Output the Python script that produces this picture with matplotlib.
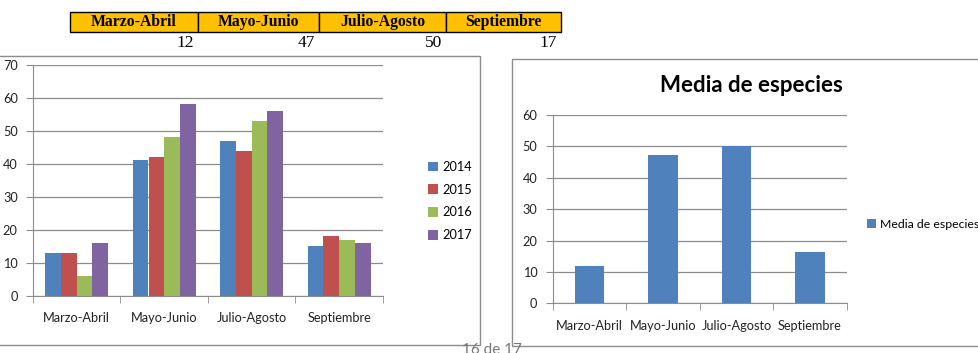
import matplotlib.pyplot as plt
from matplotlib.patches import Rectangle
import numpy as np

periods = ["Marzo-Abril", "Mayo-Junio", "Julio-Agosto", "Septiembre"]
years = ["2014", "2015", "2016", "2017"]
v2014 = [13, 41, 47, 15]
v2015 = [13, 42, 44, 18]
v2016 = [6, 48, 53, 17]
v2017 = [16, 58, 56, 16]
media = [12, 47.25, 50, 16.5]
media_table = [12, 47, 50, 17]

colors = ["#4F81BD", "#C0504D", "#9BBB59", "#8064A2"]
W, H = 979, 353
font = ["Lato", "DejaVu Sans"]


def fx(px):
    return px / W


def fy(py):
    return 1 - py / H


fig = plt.figure(figsize=(W / 100, H / 100), dpi=100)

# table on top
edges = [70, 198, 319, 446, 561]
for i, name in enumerate(periods):
    fig.patches.append(Rectangle((fx(edges[i]), fy(32)), fx(edges[i + 1] - edges[i]), 20 / H,
                                 transform=fig.transFigure, facecolor="#FFC000",
                                 edgecolor="black", lw=1))
    fig.text(fx((edges[i] + edges[i + 1]) / 2), fy(22), name, ha="center", va="center",
             family="Liberation Serif", weight="bold", fontsize=11.3)
    fig.text(fx(edges[i + 1] - 4), fy(43), str(media_table[i]), ha="right", va="center",
             family="Liberation Serif", fontsize=12.5)

# chart frames
fig.patches.append(Rectangle((fx(-2), fy(345)), fx(482), 289 / H, transform=fig.transFigure,
                             facecolor="none", edgecolor="#8c8c8c", lw=1))
fig.patches.append(Rectangle((fx(512), fy(346)), fx(480), 287 / H, transform=fig.transFigure,
                             facecolor="none", edgecolor="#8c8c8c", lw=1))


def style(ax, ymax):
    ax.set_ylim(0, ymax)
    ax.set_xlim(-0.5, 3.5)
    ax.set_yticks(np.arange(0, ymax + 1, 10))
    ax.yaxis.grid(True, color="#8c8c8c", lw=0.9)
    ax.set_axisbelow(True)
    for s in ["top", "right"]:
        ax.spines[s].set_visible(False)
    for s in ["left", "bottom"]:
        ax.spines[s].set_color("#8c8c8c")
    ax.set_xticks(np.arange(4))
    ax.set_xticklabels(periods)
    ax.set_xticks(np.arange(-0.5, 4, 1), minor=True)
    ax.tick_params(axis="x", which="major", length=0, pad=12)
    ax.tick_params(axis="x", which="minor", length=5, color="#8c8c8c")
    ax.tick_params(axis="y", length=5, color="#8c8c8c", pad=6)
    for lab in ax.get_xticklabels() + ax.get_yticklabels():
        lab.set_family(font)
        lab.set_fontsize(9.2)
        lab.set_color("#222222")


# left chart
ax1 = fig.add_axes([fx(33), fy(295.7), fx(350), (295.7 - 64.7) / H])
x = np.arange(len(periods))
bw = 0.18
for i, (yr, vals) in enumerate(zip(years, [v2014, v2015, v2016, v2017])):
    ax1.bar(x + (i - 1.5) * bw, vals, bw, color=colors[i], label=yr)
style(ax1, 70)
ax1.legend(loc="center left", bbox_to_anchor=(fx(428), fy(201)), bbox_transform=fig.transFigure,
           frameon=False, handlelength=0.75, handleheight=0.75, handletextpad=0.35,
           labelspacing=0.85, borderpad=0, borderaxespad=0,
           prop={"family": font, "size": 9.2})

# right chart
ax2 = fig.add_axes([fx(552.7), fy(303.3), fx(294), (303.3 - 115) / H])
ax2.bar(x, media, 0.4, color=colors[0], label="Media de especies")
style(ax2, 60)
ax2.legend(loc="center left", bbox_to_anchor=(fx(867), fy(224)), bbox_transform=fig.transFigure,
           frameon=False, handlelength=0.75, handleheight=0.75, handletextpad=0.35,
           borderpad=0, borderaxespad=0, prop={"family": font, "size": 8.8})
fig.text(fx(751), fy(85), "Media de especies", ha="center", va="center",
         family=font, weight="bold", fontsize=16)

# page footer, cut at the bottom edge
fig.text(fx(492), fy(357), "16 de 17", ha="center", va="bottom", family=font,
         fontsize=11, color="#777777")

fig.savefig("out.png", dpi=100)
